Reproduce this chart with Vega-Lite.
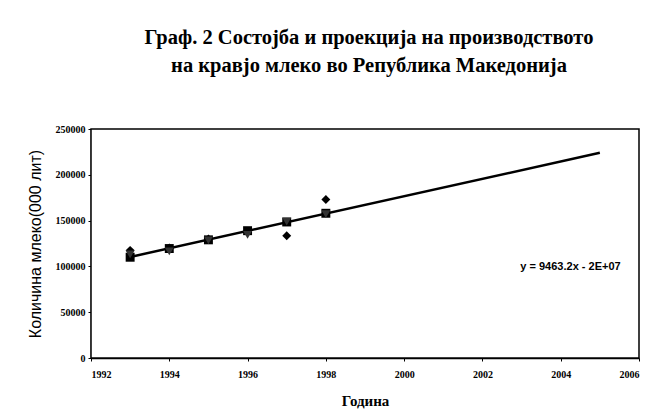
{
  "$schema": "https://vega.github.io/schema/vega-lite/v6.json",
  "width": 548,
  "height": 229,
  "autosize": "none",
  "padding": {"left": 91, "top": 129, "right": 9, "bottom": 54},
  "background": "white",
  "title": {
    "text": ["Граф. 2 Состојба и проекција на производството", "на кравјо млеко во Република Македонија"],
    "font": "Liberation Serif",
    "fontSize": 20.5,
    "fontWeight": "bold",
    "color": "black",
    "anchor": "middle",
    "lineHeight": 28,
    "offset": 48,
    "dx": 4
  },
  "config": {
    "view": {"stroke": null},
    "axis": {
      "grid": false,
      "domainColor": "black",
      "domainWidth": 1.5,
      "tickColor": "black",
      "tickSize": 3,
      "labelFont": "Liberation Serif",
      "labelFontWeight": "bold",
      "labelFontSize": 10,
      "labelColor": "black",
      "titleColor": "black"
    }
  },
  "datasets": {
    "pts": [
      {"year": 1993, "value": 117500, "series": "diamond"},
      {"year": 1994, "value": 120000, "series": "diamond"},
      {"year": 1995, "value": 130000, "series": "diamond"},
      {"year": 1996, "value": 138000, "series": "diamond"},
      {"year": 1997, "value": 133500, "series": "diamond"},
      {"year": 1998, "value": 173000, "series": "diamond"},
      {"year": 1993, "value": 110000, "series": "square"},
      {"year": 1994, "value": 119500, "series": "square"},
      {"year": 1995, "value": 129000, "series": "square"},
      {"year": 1996, "value": 139000, "series": "square"},
      {"year": 1997, "value": 148500, "series": "square"},
      {"year": 1998, "value": 158000, "series": "square"},
      {"year": 1993, "value": 113000, "series": "triangle-down"},
      {"year": 1994, "value": 116500, "series": "triangle-down"},
      {"year": 1995, "value": 128500, "series": "triangle-down"},
      {"year": 1996, "value": 134500, "series": "triangle-down"},
      {"year": 1997, "value": 149000, "series": "triangle-down"},
      {"year": 1998, "value": 157000, "series": "triangle-down"}
    ],
    "trend": [
      {"year": 1993, "value": 110300},
      {"year": 2005, "value": 224000}
    ],
    "eq": [
      {"year": 2004.25, "value": 99000, "label": "y = 9463.2x - 2E+07"}
    ],
    "frame": [
      {"x0": 1992, "x1": 2006, "y0": 0, "y1": 250000}
    ]
  },
  "layer": [
    {
      "data": {"name": "frame"},
      "mark": {"type": "rect", "fill": "white", "stroke": "black", "strokeWidth": 1.5},
      "encoding": {
        "x": {"field": "x0", "type": "quantitative", "scale": {"domain": [1992, 2006], "nice": false, "zero": false},
          "axis": {
            "values": [1992, 1994, 1996, 1998, 2000, 2002, 2004, 2006],
            "format": "d",
            "labelOverlap": false,
            "labelSeparation": 0,
            "title": "Година",
            "titleFont": "Liberation Serif",
            "titleFontSize": 15,
            "titleFontWeight": "bold",
            "titlePadding": 14,
            "labelPadding": 8
          }},
        "x2": {"field": "x1"},
        "y": {"field": "y0", "type": "quantitative", "scale": {"domain": [0, 250000], "nice": false},
          "axis": {
            "values": [0, 25000, 50000, 75000, 100000, 125000, 150000, 175000, 200000, 225000, 250000],
            "format": "d",
            "labelOverlap": false,
            "labelSeparation": 0,
            "title": "Количина млеко(000 лит)",
            "titleFont": "Liberation Sans",
            "titleFontSize": 16,
            "titleFontWeight": "normal",
            "titlePadding": 12,
            "labelPadding": 3
          }},
        "y2": {"field": "y1"}
      }
    },
    {
      "data": {"name": "trend"},
      "mark": {"type": "line", "color": "black", "strokeWidth": 2.5},
      "encoding": {
        "x": {"field": "year", "type": "quantitative"},
        "y": {"field": "value", "type": "quantitative"}
      }
    },
    {
      "data": {"name": "pts"},
      "mark": {"type": "point", "filled": true, "opacity": 1, "size": 80},
      "encoding": {
        "x": {"field": "year", "type": "quantitative"},
        "y": {"field": "value", "type": "quantitative"},
        "shape": {
          "field": "series", "type": "nominal",
          "scale": {"domain": ["diamond", "square", "triangle-down"], "range": ["diamond", "square", "triangle-down"]},
          "legend": null
        },
        "color": {
          "field": "series", "type": "nominal",
          "scale": {"domain": ["diamond", "square", "triangle-down"], "range": ["black", "black", "#333333"]},
          "legend": null
        }
      }
    },
    {
      "data": {"name": "eq"},
      "mark": {"type": "text", "font": "Liberation Sans", "fontSize": 11, "fontWeight": "bold", "color": "black", "align": "center"},
      "encoding": {
        "x": {"field": "year", "type": "quantitative"},
        "y": {"field": "value", "type": "quantitative"},
        "text": {"field": "label"}
      }
    }
  ]
}
